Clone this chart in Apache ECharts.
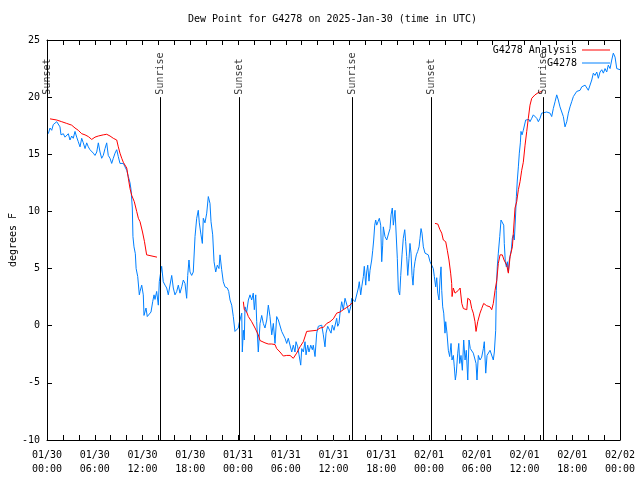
<!DOCTYPE html>
<html><head><meta charset="utf-8">
<script src="https://cdn.jsdelivr.net/npm/echarts@6/dist/echarts.min.js"></script>
<style>html,body{margin:0;padding:0;background:#fff}#c{width:640px;height:480px}</style>
</head><body><div id="c"></div>
<script>
const obsHours = [0.16,0.38,0.59,0.79,1.01,1.22,1.42,1.63,1.76,2.05,2.26,2.48,2.68,2.89,3.10,3.30,3.52,3.73,3.93,4.15,4.36,4.56,4.78,4.99,5.19,5.40,5.62,5.82,6.03,6.25,6.45,6.66,6.87,7.07,7.29,7.50,7.70,7.92,8.13,8.33,8.55,8.76,8.96,9.17,9.39,9.59,9.80,10.02,10.22,10.43,10.56,10.72,10.80,10.93,11.10,11.20,11.40,11.60,11.69,11.90,12.10,12.19,12.44,12.60,12.85,13.07,13.28,13.45,13.57,13.78,13.99,14.11,14.29,14.41,14.61,14.83,15.04,15.24,15.46,15.67,15.87,16.08,16.30,16.50,16.71,16.93,17.13,17.34,17.55,17.68,17.84,17.97,18.18,18.38,18.60,18.81,19.01,19.14,19.35,19.52,19.64,19.85,20.07,20.27,20.48,20.61,20.82,20.99,21.20,21.40,21.61,21.74,21.95,22.15,22.37,22.66,22.83,23.00,23.21,23.41,23.62,23.84,24.04,24.13,24.25,24.38,24.47,24.54,24.67,24.79,24.88,25.09,25.30,25.51,25.72,25.92,26.05,26.23,26.35,26.55,26.77,26.98,27.18,27.39,27.61,27.81,28.02,28.24,28.44,28.65,28.86,29.07,29.28,29.49,29.69,29.91,30.12,30.32,30.54,30.75,30.95,31.16,31.29,31.50,31.67,31.88,32.01,32.21,32.42,32.55,32.76,32.92,33.14,33.34,33.46,33.68,33.89,34.09,34.31,34.52,34.72,34.93,35.06,35.27,35.47,35.69,35.85,36.06,36.40,36.53,36.69,36.82,37.03,37.23,37.45,37.66,37.79,37.95,38.16,38.29,38.49,38.70,38.92,39.12,39.24,39.42,39.55,39.75,39.87,40.05,40.17,40.30,40.46,40.59,40.80,40.93,41.05,41.18,41.30,41.43,41.59,41.76,41.93,42.06,42.18,42.26,42.47,42.69,42.89,43.10,43.23,43.39,43.52,43.73,43.86,44.02,44.15,44.32,44.45,44.61,44.77,44.95,45.07,45.20,45.33,45.49,45.61,45.74,45.87,45.99,46.12,46.24,46.41,46.58,46.75,46.87,47.00,47.12,47.29,47.50,47.71,47.91,48.13,48.34,48.54,48.67,48.84,48.97,49.10,49.26,49.38,49.51,49.60,49.72,49.85,50.01,50.10,50.26,50.43,50.60,50.77,50.89,51.06,51.18,51.31,51.43,51.61,51.74,51.86,52.02,52.19,52.36,52.53,52.69,52.87,53.03,53.19,53.37,53.57,53.78,53.91,54.03,54.20,54.41,54.62,54.83,54.95,55.13,55.29,55.45,55.67,55.88,56.08,56.21,56.38,56.46,56.58,56.71,56.89,57.05,57.21,57.39,57.46,57.59,57.72,57.84,57.97,58.09,58.22,58.35,58.47,58.60,58.72,58.85,58.98,59.10,59.23,59.35,59.48,59.56,59.69,59.85,60.03,60.15,60.36,60.57,60.69,60.91,61.11,61.32,61.54,61.74,61.95,62.16,62.37,62.79,63.21,63.42,63.62,63.84,64.05,64.25,64.46,64.68,64.88,65.09,65.31,65.51,65.72,65.93,66.14,66.35,66.56,66.77,66.98,67.19,67.39,67.61,67.82,68.02,68.23,68.45,68.65,68.86,69.08,69.28,69.49,69.71,69.91,70.12,70.33,70.53,70.75,70.96,71.16,71.38,71.59,71.79,72.00];
const obsDew = [16.8,17.3,17.1,17.6,17.7,17.85,18.0,17.4,16.7,16.8,16.5,16.4,16.8,16.25,16.6,16.4,17.0,16.5,16.1,15.65,16.4,16.0,15.5,16.0,15.65,15.4,15.5,15.1,14.9,15.2,16.0,15.2,14.65,14.9,15.5,16.0,14.9,14.65,14.2,14.65,15.1,15.4,14.8,14.2,14.05,14.2,13.9,13.6,13.05,12.5,11.9,10.3,7.8,6.9,6.3,5.0,4.3,2.7,3.0,3.55,2.7,0.9,1.55,0.8,0.8,1.2,2.1,2.7,2.3,3.0,1.8,3.85,4.7,5.2,3.85,3.55,3.3,2.7,2.85,4.4,3.3,2.7,3.0,3.55,2.85,3.4,4.0,3.7,2.4,4.4,5.75,4.7,4.4,4.7,7.8,9.4,10.1,9.0,7.95,7.2,9.4,9.0,9.85,11.3,10.7,9.1,7.95,5.6,4.7,5.3,5.0,6.2,4.9,3.85,3.4,3.3,3.0,2.25,1.8,0.8,-0.5,-0.5,-0.2,0.2,0.5,0.4,1.1,-2.3,-0.4,-1.25,1.65,1.2,2.25,2.7,2.25,2.85,1.4,2.7,0.35,-2.3,0.2,0.9,0.2,-0.2,0.5,1.8,0.8,-0.8,0.2,-1.55,0.8,0.5,0.65,-0.5,-0.65,-1.1,-1.55,-1.1,-1.25,-2.3,-1.7,-2.3,-1.4,-1.85,-2.55,-3.45,-2.0,-2.3,-1.4,-2.55,-1.7,-2.3,-1.7,-2.1,-1.7,-2.7,-0.65,-0.05,-0.2,0.05,-0.8,-1.85,-0.65,-0.05,-0.05,-0.65,0.05,-0.4,0.65,-0.05,0.2,1.1,2.1,1.4,2.4,2.4,1.55,1.1,1.65,2.4,2.25,2.1,1.95,3.3,3.85,2.7,3.4,4.3,5.2,3.55,4.7,5.3,3.9,4.85,5.75,6.6,7.5,8.8,9.25,8.8,9.1,9.4,8.8,5.6,7.05,8.65,7.8,7.5,7.5,8.5,9.7,10.3,8.8,10.1,8.2,5.9,3.1,2.7,4.4,6.2,7.65,8.4,7.35,6.05,4.4,5.9,7.2,6.35,4.4,3.55,5.0,5.6,6.2,6.5,6.9,7.65,8.5,8.1,6.9,6.35,6.2,6.2,5.6,5.45,5.0,4.3,3.4,4.2,2.85,2.25,4.0,5.15,3.1,1.65,1.1,-0.65,0.35,-0.65,-2.15,-2.7,-1.55,-3.0,-2.6,-3.6,-4.75,-4.15,-2.4,-1.55,-3.3,-2.6,-3.9,-1.25,-3.0,-2.15,-4.75,-1.25,-2.0,-2.15,-2.4,-2.3,-3.3,-4.75,-2.6,-3.0,-2.75,-2.0,-1.4,-4.15,-2.6,-2.5,-2.15,-2.3,-3.0,-2.3,-0.4,3.1,5.15,6.35,7.8,9.25,9.4,8.8,7.2,5.6,5.15,5.6,4.7,5.75,6.2,6.65,7.65,7.95,7.5,9.25,11.3,12.75,13.9,15.1,16.0,17.0,16.7,17.1,17.0,18.0,18.0,18.05,17.85,18.15,18.45,18.6,18.15,17.85,18.15,18.6,18.7,18.7,18.6,18.3,19.0,19.6,20.2,19.75,19.15,19.0,18.3,17.4,17.85,18.6,19.15,19.6,20.05,20.2,20.5,20.35,20.6,20.9,20.75,21.05,20.9,20.6,20.75,21.5,22.1,21.9,22.2,21.65,22.2,22.4,22.1,22.5,22.2,22.8,22.5,23.25,23.85,23.5,22.5,22.4,22.4];

const anaHours = [0.38,1.22,1.85,2.48,3.10,3.52,3.93,4.36,4.78,5.19,5.62,6.03,6.45,7.07,7.50,7.92,8.33,8.76,8.96,9.17,9.39,9.59,9.80,10.02,10.22,10.43,10.65,10.84,10.97,11.27,11.48,11.69,11.82,12.00,12.25,12.52,12.69,13.82,
  19.0,
  24.67,24.79,25.09,25.30,25.72,26.14,26.55,26.77,26.98,27.39,27.81,28.24,28.65,28.86,29.28,29.69,30.12,30.54,30.95,31.37,31.79,32.21,32.63,32.84,33.89,34.31,34.72,35.15,35.56,35.98,36.40,36.82,37.23,37.66,38.07,38.32,
  43.0,
  48.75,49.10,49.38,49.60,49.80,50.10,50.30,50.51,50.72,50.85,50.90,51.05,51.27,51.70,51.91,52.12,52.32,52.75,52.87,53.16,53.37,53.57,53.78,53.91,54.12,54.41,54.62,54.87,55.25,55.67,55.88,56.08,56.30,56.51,56.71,56.93,57.21,57.43,57.77,57.97,58.19,58.48,58.60,58.81,59.02,59.23,59.44,59.65,59.85,60.07,60.28,60.48,60.69,60.91,61.11,61.32,61.53,61.74,62.16];
const anaDew = [18.1,18.0,17.85,17.7,17.55,17.3,17.1,16.8,16.7,16.55,16.3,16.5,16.6,16.7,16.75,16.6,16.4,16.25,15.65,15.1,14.65,14.3,14.3,13.8,12.9,12.0,11.4,11.5,10.85,10.0,9.4,9.1,9.25,8.2,7.35,6.2,6.05,6.0,
  null,
  2.1,1.4,1.2,0.8,0.35,-0.2,-0.8,-1.3,-1.2,-1.5,-1.6,-1.6,-1.65,-2.0,-2.3,-2.65,-2.6,-2.6,-2.85,-2.4,-1.85,-1.4,-0.5,-0.4,-0.4,-0.2,-0.15,0.2,0.35,0.6,1.1,1.2,1.4,1.6,1.8,2.0,
  null,
  8.95,8.9,8.4,8.1,7.5,7.35,6.6,5.75,4.6,3.7,2.55,3.3,2.85,3.1,3.3,1.95,1.5,1.4,2.4,2.25,1.5,1.1,0.35,-0.5,0.35,1.1,1.5,1.95,1.75,1.65,1.4,1.95,3.1,3.95,5.45,6.2,6.2,5.75,5.3,4.6,6.05,6.9,8.1,10.3,10.85,11.9,12.6,13.6,14.3,15.8,17.0,18.15,19.3,19.9,20.05,20.2,20.35,20.4,20.5];

const sunHours = [0.02, 14.24, 24.13, 38.37, 48.25, 62.37];
const sunLabels = ['Sunset','Sunrise','Sunset','Sunrise','Sunset','Sunrise'];
const xTickLabels = ['01/30\n00:00','01/30\n06:00','01/30\n12:00','01/30\n18:00','01/31\n00:00','01/31\n06:00','01/31\n12:00','01/31\n18:00','02/01\n00:00','02/01\n06:00','02/01\n12:00','02/01\n18:00','02/02\n00:00'];

const FONT = 'DejaVu Sans Mono';
const obsData = obsHours.map((h, i) => [h, obsDew[i]]);
const anaData = anaHours.map((h, i) => [h, anaDew[i] === null ? '-' : anaDew[i]]);

const chart = echarts.init(document.getElementById('c'));
const txt = { fontFamily: FONT, fontSize: 10, color: '#000' };
const tick = { show: true, inside: true, length: 5, lineStyle: { color: '#000', width: 1 } };
const commonX = { type: 'value', min: 0, max: 72, interval: 2,
  axisLine: { show: true, onZero: false, lineStyle: { color: '#000', width: 1 } },
  axisTick: tick, splitLine: { show: false } };
const commonY = { type: 'value', min: -10, max: 25, interval: 5,
  axisLine: { show: true, onZero: false, lineStyle: { color: '#000', width: 1 } },
  axisTick: tick, splitLine: { show: false } };

chart.setOption({
  animation: false,
  backgroundColor: '#fff',
  title: { text: 'Dew Point for G4278 on 2025-Jan-30 (time in UTC)', left: 188, top: 14, padding: 0,
    textStyle: { fontFamily: FONT, fontSize: 10, fontWeight: 'normal', color: '#000' } },
  grid: { left: 47, right: 20, top: 40, bottom: 40, containLabel: false, outerBoundsMode: 'none' },
  legend: [
    { data: [{ name: 'G4278 Analysis', icon: 'rect' }], right: 30, top: 45, align: 'right', itemWidth: 28, itemHeight: 1,
      padding: 0, textStyle: txt, selectedMode: false },
    { data: [{ name: 'G4278', icon: 'rect' }], right: 30, top: 58, align: 'right', itemWidth: 28, itemHeight: 1,
      padding: 0, textStyle: txt, selectedMode: false }
  ],
  xAxis: [
    Object.assign({}, commonX, { position: 'bottom',
      axisLabel: { show: true, showMinLabel: true, showMaxLabel: true, margin: 8, lineHeight: 14,
        fontFamily: FONT, fontSize: 10, color: '#000',
        formatter: v => (Math.round(v) % 6 === 0 ? xTickLabels[Math.round(v) / 6] : '') } }),
    Object.assign({}, commonX, { position: 'top', axisLabel: { show: false } })
  ],
  yAxis: [
    Object.assign({}, commonY, { position: 'left', name: 'degrees F', nameLocation: 'middle', nameGap: 29,
      nameMoveOverlap: false, nameRotate: 90, nameTextStyle: txt,
      axisLabel: { show: true, margin: 7, fontFamily: FONT, fontSize: 10, color: '#000' } }),
    Object.assign({}, commonY, { position: 'right', axisLabel: { show: false } })
  ],
  series: [
    { name: 'G4278 Analysis', type: 'line', data: anaData, symbol: 'none', connectNulls: false,
      lineStyle: { color: '#ff0000', width: 1 }, itemStyle: { color: '#ff0000' }, z: 4 },
    { name: 'G4278', type: 'line', data: obsData, symbol: 'none',
      lineStyle: { color: '#0080ff', width: 1 }, itemStyle: { color: '#0080ff' }, z: 3 },
    { name: 'sun', type: 'scatter', data: sunHours.map(h => [h, 20]), symbolSize: 1,
      itemStyle: { color: 'rgba(0,0,0,0)' }, silent: true, z: 5,
      label: { show: true, position: 'top', distance: 2, rotate: 90, align: 'left', verticalAlign: 'middle',
        fontFamily: FONT, fontSize: 10, color: '#000',
        formatter: p => sunLabels[p.dataIndex] },
      markLine: { silent: true, symbol: ['none', 'none'], label: { show: false },
        lineStyle: { color: '#000', width: 1, type: 'solid' },
        data: sunHours.map(h => [{ coord: [h, -10] }, { coord: [h, 20] }]) } }
  ]
});
</script></body></html>
